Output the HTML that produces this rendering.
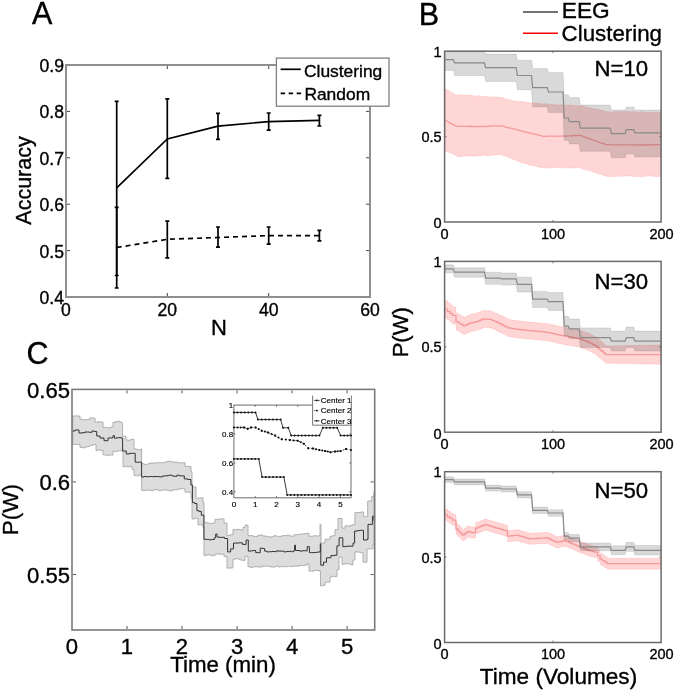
<!DOCTYPE html>
<html><head><meta charset="utf-8"><style>
html,body{margin:0;padding:0;background:#fff;}
body{width:675px;height:690px;overflow:hidden;}
svg{display:block;will-change:transform;}
text{font-family:"Liberation Sans", sans-serif;fill:#000;stroke:#000;stroke-width:0.35px;}
</style></head><body>
<svg width="675" height="690" viewBox="0 0 675 690">
<rect width="675" height="690" fill="#fff"/>
<text x="32.0" y="23.9" font-size="30.50" text-anchor="start" >A</text>
<rect x="66" y="65" width="304" height="232" fill="none" stroke="#8f8f8f" stroke-width="2"/>
<line x1="167.3" y1="296" x2="167.3" y2="293" stroke="#444" stroke-width="1"/>
<line x1="167.3" y1="66" x2="167.3" y2="69" stroke="#444" stroke-width="1"/>
<line x1="268.7" y1="296" x2="268.7" y2="293" stroke="#444" stroke-width="1"/>
<line x1="268.7" y1="66" x2="268.7" y2="69" stroke="#444" stroke-width="1"/>
<line x1="67" y1="250.6" x2="70" y2="250.6" stroke="#444" stroke-width="1"/>
<line x1="369" y1="250.6" x2="366" y2="250.6" stroke="#444" stroke-width="1"/>
<line x1="67" y1="204.2" x2="70" y2="204.2" stroke="#444" stroke-width="1"/>
<line x1="369" y1="204.2" x2="366" y2="204.2" stroke="#444" stroke-width="1"/>
<line x1="67" y1="157.8" x2="70" y2="157.8" stroke="#444" stroke-width="1"/>
<line x1="369" y1="157.8" x2="366" y2="157.8" stroke="#444" stroke-width="1"/>
<line x1="67" y1="111.4" x2="70" y2="111.4" stroke="#444" stroke-width="1"/>
<line x1="369" y1="111.4" x2="366" y2="111.4" stroke="#444" stroke-width="1"/>
<text x="64.0" y="304.0" font-size="17.60" text-anchor="end" >0.4</text>
<text x="64.0" y="257.6" font-size="17.60" text-anchor="end" >0.5</text>
<text x="64.0" y="211.2" font-size="17.60" text-anchor="end" >0.6</text>
<text x="64.0" y="164.8" font-size="17.60" text-anchor="end" >0.7</text>
<text x="64.0" y="118.4" font-size="17.60" text-anchor="end" >0.8</text>
<text x="64.0" y="72.0" font-size="17.60" text-anchor="end" >0.9</text>
<text x="66.0" y="315.8" font-size="17.60" text-anchor="middle" >0</text>
<text x="167.3" y="315.8" font-size="17.60" text-anchor="middle" >20</text>
<text x="268.7" y="315.8" font-size="17.60" text-anchor="middle" >40</text>
<text x="370.0" y="315.8" font-size="17.60" text-anchor="middle" >60</text>
<text x="219.0" y="334.6" font-size="22.00" text-anchor="middle" >N</text>
<text transform="translate(31.4,180.5) rotate(-90)" x="0" y="0" font-size="21.5" text-anchor="middle">Accuracy</text>
<polyline points="116.7,187.8 167.3,138.9 218.0,126.2 268.7,121.6 319.4,120.4" fill="none" stroke="#000" stroke-width="1.7"/>
<polyline points="116.7,247.5 167.3,239.3 218.0,237.5 268.7,235.6 319.4,235.6" fill="none" stroke="#000" stroke-width="1.7" stroke-dasharray="5,4"/>
<path d="M116.7 101.4V288.0M114.7 101.4H118.7M114.7 288.0H118.7" stroke="#000" stroke-width="1.7" fill="none"/>
<path d="M167.3 98.9V178.4M165.3 98.9H169.3M165.3 178.4H169.3" stroke="#000" stroke-width="1.7" fill="none"/>
<path d="M218.0 113.4V139.4M216.0 113.4H220.0M216.0 139.4H220.0" stroke="#000" stroke-width="1.7" fill="none"/>
<path d="M268.7 113.0V130.1M266.7 113.0H270.7M266.7 130.1H270.7" stroke="#000" stroke-width="1.7" fill="none"/>
<path d="M319.4 115.3V126.0M317.4 115.3H321.4M317.4 126.0H321.4" stroke="#000" stroke-width="1.7" fill="none"/>
<path d="M116.7 207.3V275.5M114.7 207.3H118.7M114.7 275.5H118.7" stroke="#000" stroke-width="1.7" fill="none"/>
<path d="M167.3 221.1V257.9M165.3 221.1H169.3M165.3 257.9H169.3" stroke="#000" stroke-width="1.7" fill="none"/>
<path d="M218.0 227.0V247.2M216.0 227.0H220.0M216.0 247.2H220.0" stroke="#000" stroke-width="1.7" fill="none"/>
<path d="M268.7 227.0V244.2M266.7 227.0H270.7M266.7 244.2H270.7" stroke="#000" stroke-width="1.7" fill="none"/>
<path d="M319.4 230.3V240.9M317.4 230.3H321.4M317.4 240.9H321.4" stroke="#000" stroke-width="1.7" fill="none"/>
<rect x="276.4" y="58.1" width="112.6" height="48.1" fill="#fff" stroke="#808080" stroke-width="1.3"/>
<line x1="280.6" y1="69.3" x2="300.8" y2="69.3" stroke="#000" stroke-width="1.7"/>
<line x1="280.6" y1="93.3" x2="302" y2="93.3" stroke="#000" stroke-width="1.7" stroke-dasharray="4.5,3.5"/>
<text x="304.0" y="76.8" font-size="17.40" text-anchor="start" >Clustering</text>
<text x="304.4" y="99.5" font-size="17.40" text-anchor="start" >Random</text>
<text x="26.6" y="363.5" font-size="30.50" text-anchor="start" >C</text>
<polygon points="72.8,416.0 75.2,416.0 75.2,415.9 77.6,415.9 77.6,416.1 80.0,416.1 80.0,419.3 82.5,419.3 82.5,420.0 85.0,420.0 85.0,419.6 87.5,419.6 87.5,419.5 90.0,419.5 90.0,417.8 92.5,417.8 92.5,418.0 95.0,418.0 95.0,422.2 97.7,422.2 97.7,421.8 100.3,421.8 100.3,422.0 103.0,422.0 103.0,427.4 105.5,427.4 105.5,427.5 108.0,427.5 108.0,427.9 110.5,427.9 110.5,427.0 113.0,427.0 113.0,422.2 115.2,422.2 115.2,421.7 117.5,421.7 117.5,421.3 119.8,421.3 119.8,422.2 122.0,422.2 122.0,423.7 122.6,423.7 122.6,436.3 126.0,436.3 126.0,440.0 128.3,440.0 128.3,440.3 130.7,440.3 130.7,439.4 133.0,439.4 133.0,439.3 134.0,439.3 134.0,448.9 136.3,448.9 136.3,449.4 138.7,449.4 138.7,449.9 141.0,449.9 141.0,448.9 141.6,448.9 141.6,463.7 143.9,463.7 143.9,464.4 146.3,464.4 146.3,464.3 148.6,464.3 148.6,463.4 151.0,463.4 151.0,462.8 153.3,462.8 153.3,463.3 155.6,463.3 155.6,462.8 158.0,462.8 158.0,462.7 160.3,462.7 160.3,462.8 162.7,462.8 162.7,462.5 165.0,462.5 165.0,461.9 167.4,461.9 167.4,461.2 169.8,461.2 169.8,461.5 172.2,461.5 172.2,462.2 174.6,462.2 174.6,462.1 177.0,462.1 177.0,462.6 179.7,462.6 179.7,462.9 182.3,462.9 182.3,462.8 185.0,462.8 185.0,466.3 188.0,466.3 188.0,466.6 191.0,466.6 191.0,471.5 192.0,471.5 192.0,487.0 196.0,487.0 196.0,498.1 198.3,498.1 198.3,498.2 200.7,498.2 200.7,497.8 203.0,497.8 203.0,502.6 204.0,502.6 204.0,522.2 206.2,522.2 206.2,522.8 208.4,522.8 208.4,523.3 210.6,523.3 210.6,523.3 212.8,523.3 212.8,523.1 215.0,523.1 215.0,519.3 217.2,519.3 217.2,519.4 219.5,519.4 219.5,518.9 221.8,518.9 221.8,518.8 224.0,518.8 224.0,523.0 227.0,523.0 227.0,535.6 230.0,535.6 230.0,534.7 233.0,534.7 233.0,529.6 235.5,529.6 235.5,529.6 238.0,529.6 238.0,529.4 240.5,529.4 240.5,530.1 243.0,530.1 243.0,527.4 245.0,527.4 245.0,525.2 248.0,525.2 248.0,535.6 250.4,535.6 250.4,535.6 252.9,535.6 252.9,536.4 255.3,536.4 255.3,536.5 257.7,536.5 257.7,535.3 260.1,535.3 260.1,535.0 262.6,535.0 262.6,535.9 265.0,535.9 265.0,536.3 267.2,536.3 267.2,536.4 269.4,536.4 269.4,537.1 271.7,537.1 271.7,536.6 273.9,536.6 273.9,535.7 276.1,535.7 276.1,536.2 278.3,536.2 278.3,536.7 280.6,536.7 280.6,536.1 282.8,536.1 282.8,535.6 285.0,535.6 285.0,535.6 287.2,535.6 287.2,535.0 289.5,535.0 289.5,536.0 291.8,536.0 291.8,536.2 294.0,536.2 294.0,534.8 296.6,534.8 296.6,534.5 299.2,534.5 299.2,534.2 301.8,534.2 301.8,533.9 304.4,533.9 304.4,533.6 307.0,533.6 307.0,533.3 309.0,533.3 309.0,536.3 311.5,536.3 311.5,536.2 314.0,536.2 314.0,535.7 316.5,535.7 316.5,536.1 319.0,536.1 319.0,535.6 320.0,535.6 320.0,524.4 321.0,524.4 321.0,543.0 325.0,543.0 325.0,539.3 327.5,539.3 327.5,539.1 330.0,539.1 330.0,536.3 332.5,536.3 332.5,535.7 335.0,535.7 335.0,529.6 338.0,529.6 338.0,518.5 342.0,518.5 342.0,528.1 345.0,528.1 345.0,525.9 347.7,525.9 347.7,526.0 350.3,526.0 350.3,525.3 353.0,525.3 353.0,524.4 354.9,524.4 354.9,512.6 357.8,512.6 357.8,512.6 360.7,512.6 360.7,512.0 363.6,512.0 363.6,516.7 367.7,516.7 367.7,501.0 371.7,501.0 371.7,496.4 374.0,496.4 374.0,491.7 374.0,544.4 374.0,544.4 373.0,544.4 373.0,548.8 370.0,548.8 370.0,548.9 367.0,548.9 367.0,562.2 363.0,562.2 363.0,552.7 360.3,552.7 360.3,552.1 357.7,552.1 357.7,551.9 355.0,551.9 355.0,560.0 353.0,560.0 353.0,564.9 350.8,564.9 350.8,564.0 348.6,564.0 348.6,563.7 346.4,563.7 346.4,563.7 344.2,563.7 344.2,564.4 342.0,564.4 342.0,557.0 339.0,557.0 339.0,569.6 337.0,569.6 337.0,576.6 334.7,576.6 334.7,576.2 332.3,576.2 332.3,577.0 330.0,577.0 330.0,582.1 327.5,582.1 327.5,582.2 325.0,582.2 325.0,585.3 322.8,585.3 322.8,585.9 320.5,585.9 320.5,571.1 319.0,571.1 319.0,570.4 316.5,570.4 316.5,570.4 314.0,570.4 314.0,571.1 311.5,571.1 311.5,571.1 309.0,571.1 309.0,563.7 307.0,563.7 307.0,565.3 304.4,565.3 304.4,565.7 301.8,565.7 301.8,565.4 299.2,565.4 299.2,566.2 296.6,566.2 296.6,565.9 294.0,565.9 294.0,566.4 291.8,566.4 291.8,566.4 289.5,566.4 289.5,566.3 287.2,566.3 287.2,566.7 285.0,566.7 285.0,566.7 282.7,566.7 282.7,566.7 280.4,566.7 280.4,566.9 278.1,566.9 278.1,566.0 275.8,566.0 275.8,566.9 273.4,566.9 273.4,567.1 271.1,567.1 271.1,566.5 268.8,566.5 268.8,566.2 266.5,566.2 266.5,566.1 264.2,566.1 264.2,566.3 261.9,566.3 261.9,567.1 259.6,567.1 259.6,566.9 257.2,566.9 257.2,566.6 254.9,566.6 254.9,566.9 252.6,566.9 252.6,567.5 250.3,567.5 250.3,566.7 248.0,566.7 248.0,556.3 245.0,556.3 245.0,560.4 242.6,560.4 242.6,560.0 240.2,560.0 240.2,559.2 237.8,559.2 237.8,558.5 235.4,558.5 235.4,559.3 233.0,559.3 233.0,567.9 230.0,567.9 230.0,568.1 227.0,568.1 227.0,556.3 224.0,556.3 224.0,554.1 221.8,554.1 221.8,554.2 219.5,554.2 219.5,553.9 217.2,553.9 217.2,554.1 215.0,554.1 215.0,555.5 212.8,555.5 212.8,555.7 210.6,555.7 210.6,554.7 208.4,554.7 208.4,554.9 206.2,554.9 206.2,555.6 204.0,555.6 204.0,528.0 203.0,528.0 203.0,524.8 200.5,524.8 200.5,524.8 198.0,524.8 198.0,518.3 195.0,518.3 195.0,518.9 192.0,518.9 192.0,498.1 191.0,498.1 191.0,492.1 188.0,492.1 188.0,492.2 185.0,492.2 185.0,488.7 182.3,488.7 182.3,488.6 179.7,488.6 179.7,489.3 177.0,489.3 177.0,489.8 174.6,489.8 174.6,489.9 172.2,489.9 172.2,491.0 169.8,491.0 169.8,490.5 167.4,490.5 167.4,490.0 165.0,490.0 165.0,489.8 162.7,489.8 162.7,490.5 160.3,490.5 160.3,490.6 158.0,490.6 158.0,489.4 155.6,489.4 155.6,489.8 153.3,489.8 153.3,490.8 151.0,490.8 151.0,490.1 148.6,490.1 148.6,490.1 146.3,490.1 146.3,490.4 143.9,490.4 143.9,490.4 141.6,490.4 141.6,475.6 141.0,475.6 141.0,475.0 138.7,475.0 138.7,475.8 136.3,475.8 136.3,475.6 134.0,475.6 134.0,469.6 132.0,469.6 132.0,466.1 129.8,466.1 129.8,467.0 127.5,467.0 127.5,466.0 125.2,466.0 125.2,466.7 123.0,466.7 123.0,451.1 122.0,451.1 122.0,450.8 119.8,450.8 119.8,450.7 117.5,450.7 117.5,451.5 115.2,451.5 115.2,451.1 113.0,451.1 113.0,455.1 110.5,455.1 110.5,455.2 108.0,455.2 108.0,455.2 105.5,455.2 105.5,454.8 103.0,454.8 103.0,450.5 100.7,450.5 100.7,449.7 98.3,449.7 98.3,450.4 96.0,450.4 96.0,444.5 93.0,444.5 93.0,445.2 90.0,445.2 90.0,446.4 87.5,446.4 87.5,447.0 85.0,447.0 85.0,447.8 82.5,447.8 82.5,447.4 80.0,447.4 80.0,444.6 77.6,444.6 77.6,444.4 75.2,444.4 75.2,444.4 72.8,444.4" fill="#dddddd" stroke="#a9a9a9" stroke-width="0.9"/>
<polyline points="72.5,431.0 75.0,431.0 75.0,430.0 79.0,430.0 79.0,433.0 82.0,433.0 82.0,432.7 85.0,432.7 85.0,432.0 87.3,432.0 87.3,432.1 89.7,432.1 89.7,432.3 92.0,432.3 92.0,431.0 94.3,431.0 94.3,431.5 96.7,431.5 96.7,436.0 100.0,436.0 100.0,438.0 104.0,438.0 104.0,440.7 108.0,440.7 108.0,438.0 110.5,438.0 110.5,437.9 113.0,437.9 113.0,435.6 114.4,435.6 114.4,438.2 116.6,438.2 116.6,437.8 118.9,437.8 118.9,437.6 121.1,437.6 121.1,438.2 122.6,438.2 122.6,451.0 126.3,451.0 126.3,454.0 129.2,454.0 129.2,453.4 132.2,453.4 132.2,453.3 135.2,453.3 135.2,462.2 137.4,462.2 137.4,462.2 139.6,462.2 139.6,462.2 141.6,462.2 141.6,477.0 143.8,477.0 143.8,476.5 146.1,476.5 146.1,476.8 148.3,476.8 148.3,476.6 150.5,476.6 150.5,476.5 152.8,476.5 152.8,476.7 155.0,476.7 155.0,476.5 157.5,476.5 157.5,476.7 160.0,476.7 160.0,476.8 162.5,476.8 162.5,476.0 165.0,476.0 165.0,475.9 167.4,475.9 167.4,475.4 169.8,475.4 169.8,475.2 172.1,475.2 172.1,476.0 174.5,476.0 174.5,476.3 176.9,476.3 176.9,475.2 179.4,475.2 179.4,475.8 181.8,475.8 181.8,475.9 184.3,475.9 184.3,478.9 187.6,478.9 187.6,479.5 190.9,479.5 190.9,484.8 192.4,484.8 192.4,502.6 194.7,502.6 194.7,503.5 196.9,503.5 196.9,510.7 199.1,510.7 199.1,511.5 201.3,511.5 201.3,515.2 203.9,515.2 203.9,539.3 206.5,539.3 206.5,539.4 209.1,539.4 209.1,539.8 211.7,539.8 211.7,539.5 214.3,539.5 214.3,537.8 215.7,537.8 215.7,534.0 217.0,534.0 217.0,537.0 219.5,537.0 219.5,537.4 222.1,537.4 222.1,537.3 224.6,537.3 224.6,538.5 227.6,538.5 227.6,551.9 230.6,551.9 230.6,548.9 233.5,548.9 233.5,543.0 235.7,543.0 235.7,543.1 237.9,543.1 237.9,542.9 240.2,542.9 240.2,542.8 242.4,542.8 242.4,544.4 246.1,544.4 246.1,540.0 248.3,540.0 248.3,551.1 250.8,551.1 250.8,550.8 253.2,550.8 253.2,550.5 255.7,550.5 255.7,552.6 257.9,552.6 257.9,552.7 260.2,552.7 260.2,548.1 262.4,548.1 262.4,548.5 264.6,548.5 264.6,551.1 267.0,551.1 267.0,551.9 269.4,551.9 269.4,551.7 271.8,551.7 271.8,551.5 274.2,551.5 274.2,551.6 276.7,551.6 276.7,550.9 279.1,550.9 279.1,551.2 281.5,551.2 281.5,551.1 283.9,551.1 283.9,551.9 286.4,551.9 286.4,551.5 288.9,551.5 288.9,551.3 291.4,551.3 291.4,551.7 293.9,551.7 293.9,550.4 294.6,550.4 294.6,545.2 295.5,545.2 295.5,550.5 299.8,550.5 299.8,551.1 302.3,551.1 302.3,550.7 304.7,550.7 304.7,550.8 307.2,550.8 307.2,546.7 309.4,546.7 309.4,552.6 311.8,552.6 311.8,552.6 314.2,552.6 314.2,552.5 316.7,552.5 316.7,552.1 319.1,552.1 319.1,551.9 320.3,551.9 320.3,543.7 320.8,543.7 320.8,565.2 323.5,565.2 323.5,562.2 326.5,562.2 326.5,557.8 330.9,557.8 330.9,555.6 333.9,555.6 333.9,555.3 336.9,555.3 336.9,545.9 339.1,545.9 339.1,537.8 341.3,537.8 341.3,537.8 342.8,537.8 342.8,546.7 345.4,546.7 345.4,546.3 348.0,546.3 348.0,546.2 350.5,546.2 350.5,546.1 353.1,546.1 353.1,543.0 354.6,543.0 354.6,531.1 357.3,531.1 357.3,530.6 360.1,530.6 360.1,530.3 362.8,530.3 362.8,530.4 363.5,530.4 363.5,540.0 367.2,540.0 367.2,539.3 368.0,539.3 368.0,524.4 372.4,524.4 372.4,516.3 374.0,516.3 374.0,520.7" fill="none" stroke="#333" stroke-width="1.0"/>
<rect x="72" y="389.4" width="302.7" height="240.6" fill="none" stroke="#7a7a7a" stroke-width="1.6"/>
<line x1="127.0" y1="629.0" x2="127.0" y2="626.0" stroke="#555" stroke-width="1"/>
<line x1="127.0" y1="390.4" x2="127.0" y2="393.4" stroke="#555" stroke-width="1"/>
<line x1="182.0" y1="629.0" x2="182.0" y2="626.0" stroke="#555" stroke-width="1"/>
<line x1="182.0" y1="390.4" x2="182.0" y2="393.4" stroke="#555" stroke-width="1"/>
<line x1="237.1" y1="629.0" x2="237.1" y2="626.0" stroke="#555" stroke-width="1"/>
<line x1="237.1" y1="390.4" x2="237.1" y2="393.4" stroke="#555" stroke-width="1"/>
<line x1="292.1" y1="629.0" x2="292.1" y2="626.0" stroke="#555" stroke-width="1"/>
<line x1="292.1" y1="390.4" x2="292.1" y2="393.4" stroke="#555" stroke-width="1"/>
<line x1="347.1" y1="629.0" x2="347.1" y2="626.0" stroke="#555" stroke-width="1"/>
<line x1="347.1" y1="390.4" x2="347.1" y2="393.4" stroke="#555" stroke-width="1"/>
<line x1="73.0" y1="574.5" x2="76.0" y2="574.5" stroke="#555" stroke-width="1"/>
<line x1="373.7" y1="574.5" x2="370.7" y2="574.5" stroke="#555" stroke-width="1"/>
<line x1="73.0" y1="481.9" x2="76.0" y2="481.9" stroke="#555" stroke-width="1"/>
<line x1="373.7" y1="481.9" x2="370.7" y2="481.9" stroke="#555" stroke-width="1"/>
<text x="70.1" y="397.6" font-size="22.10" text-anchor="end" >0.65</text>
<text x="70.1" y="490.1" font-size="22.10" text-anchor="end" >0.6</text>
<text x="70.1" y="582.7" font-size="22.10" text-anchor="end" >0.55</text>
<text x="72.0" y="653.6" font-size="22.10" text-anchor="middle" >0</text>
<text x="127.0" y="653.6" font-size="22.10" text-anchor="middle" >1</text>
<text x="182.0" y="653.6" font-size="22.10" text-anchor="middle" >2</text>
<text x="237.1" y="653.6" font-size="22.10" text-anchor="middle" >3</text>
<text x="292.1" y="653.6" font-size="22.10" text-anchor="middle" >4</text>
<text x="347.1" y="653.6" font-size="22.10" text-anchor="middle" >5</text>
<text x="223.0" y="672.4" font-size="22.30" text-anchor="middle" >Time (min)</text>
<text transform="translate(18.3,509.7) rotate(-90)" x="0" y="0" font-size="22.5" text-anchor="middle">P(W)</text>
<rect x="233.9" y="405.1" width="117.1" height="92.7" fill="#fff" stroke="#7a7a7a" stroke-width="1.1"/>
<line x1="255.2" y1="497.8" x2="255.2" y2="496.3" stroke="#333" stroke-width="0.8"/>
<line x1="255.2" y1="405.1" x2="255.2" y2="406.6" stroke="#333" stroke-width="0.8"/>
<line x1="276.5" y1="497.8" x2="276.5" y2="496.3" stroke="#333" stroke-width="0.8"/>
<line x1="276.5" y1="405.1" x2="276.5" y2="406.6" stroke="#333" stroke-width="0.8"/>
<line x1="297.8" y1="497.8" x2="297.8" y2="496.3" stroke="#333" stroke-width="0.8"/>
<line x1="297.8" y1="405.1" x2="297.8" y2="406.6" stroke="#333" stroke-width="0.8"/>
<line x1="319.1" y1="497.8" x2="319.1" y2="496.3" stroke="#333" stroke-width="0.8"/>
<line x1="319.1" y1="405.1" x2="319.1" y2="406.6" stroke="#333" stroke-width="0.8"/>
<line x1="340.4" y1="497.8" x2="340.4" y2="496.3" stroke="#333" stroke-width="0.8"/>
<line x1="340.4" y1="405.1" x2="340.4" y2="406.6" stroke="#333" stroke-width="0.8"/>
<line x1="233.9" y1="491.8" x2="235.4" y2="491.8" stroke="#333" stroke-width="0.8"/>
<line x1="351.0" y1="491.8" x2="349.5" y2="491.8" stroke="#333" stroke-width="0.8"/>
<line x1="233.9" y1="462.9" x2="235.4" y2="462.9" stroke="#333" stroke-width="0.8"/>
<line x1="351.0" y1="462.9" x2="349.5" y2="462.9" stroke="#333" stroke-width="0.8"/>
<line x1="233.9" y1="434.0" x2="235.4" y2="434.0" stroke="#333" stroke-width="0.8"/>
<line x1="351.0" y1="434.0" x2="349.5" y2="434.0" stroke="#333" stroke-width="0.8"/>
<text x="233.1" y="407.9" font-size="8.00" text-anchor="end" style="stroke-width:0.15px">1</text>
<text x="233.1" y="436.8" font-size="8.00" text-anchor="end" style="stroke-width:0.15px">0.8</text>
<text x="233.1" y="465.7" font-size="8.00" text-anchor="end" style="stroke-width:0.15px">0.6</text>
<text x="233.1" y="494.6" font-size="8.00" text-anchor="end" style="stroke-width:0.15px">0.4</text>
<text x="233.9" y="507.0" font-size="8.00" text-anchor="middle" style="stroke-width:0.15px">0</text>
<text x="255.2" y="507.0" font-size="8.00" text-anchor="middle" style="stroke-width:0.15px">1</text>
<text x="276.5" y="507.0" font-size="8.00" text-anchor="middle" style="stroke-width:0.15px">2</text>
<text x="297.8" y="507.0" font-size="8.00" text-anchor="middle" style="stroke-width:0.15px">3</text>
<text x="319.1" y="507.0" font-size="8.00" text-anchor="middle" style="stroke-width:0.15px">4</text>
<text x="340.4" y="507.0" font-size="8.00" text-anchor="middle" style="stroke-width:0.15px">5</text>
<polyline points="233.9,412.4 255.5,412.4 257.9,419.6 280.6,419.6 283.0,427.8 288.3,427.8 291.2,435.6 319.4,435.6 322.8,427.8 337.2,427.8 340.6,435.6 351.0,435.6" fill="none" stroke="#222" stroke-width="0.9" />
<circle cx="233.9" cy="412.4" r="1.0" fill="#111"/>
<circle cx="237.5" cy="412.4" r="1.0" fill="#111"/>
<circle cx="241.1" cy="412.4" r="1.0" fill="#111"/>
<circle cx="244.7" cy="412.4" r="1.0" fill="#111"/>
<circle cx="248.3" cy="412.4" r="1.0" fill="#111"/>
<circle cx="251.9" cy="412.4" r="1.0" fill="#111"/>
<circle cx="255.5" cy="412.4" r="1.0" fill="#111"/>
<circle cx="257.9" cy="419.6" r="1.0" fill="#111"/>
<circle cx="261.7" cy="419.6" r="1.0" fill="#111"/>
<circle cx="265.5" cy="419.6" r="1.0" fill="#111"/>
<circle cx="269.2" cy="419.6" r="1.0" fill="#111"/>
<circle cx="273.0" cy="419.6" r="1.0" fill="#111"/>
<circle cx="276.8" cy="419.6" r="1.0" fill="#111"/>
<circle cx="280.6" cy="419.6" r="1.0" fill="#111"/>
<circle cx="283.0" cy="427.8" r="1.0" fill="#111"/>
<circle cx="288.3" cy="427.8" r="1.0" fill="#111"/>
<circle cx="291.2" cy="435.6" r="1.0" fill="#111"/>
<circle cx="294.7" cy="435.6" r="1.0" fill="#111"/>
<circle cx="298.2" cy="435.6" r="1.0" fill="#111"/>
<circle cx="301.8" cy="435.6" r="1.0" fill="#111"/>
<circle cx="305.3" cy="435.6" r="1.0" fill="#111"/>
<circle cx="308.8" cy="435.6" r="1.0" fill="#111"/>
<circle cx="312.3" cy="435.6" r="1.0" fill="#111"/>
<circle cx="315.9" cy="435.6" r="1.0" fill="#111"/>
<circle cx="319.4" cy="435.6" r="1.0" fill="#111"/>
<circle cx="322.8" cy="427.8" r="1.0" fill="#111"/>
<circle cx="326.4" cy="427.8" r="1.0" fill="#111"/>
<circle cx="330.0" cy="427.8" r="1.0" fill="#111"/>
<circle cx="333.6" cy="427.8" r="1.0" fill="#111"/>
<circle cx="337.2" cy="427.8" r="1.0" fill="#111"/>
<circle cx="340.6" cy="435.6" r="1.0" fill="#111"/>
<circle cx="344.1" cy="435.6" r="1.0" fill="#111"/>
<circle cx="347.5" cy="435.6" r="1.0" fill="#111"/>
<circle cx="351.0" cy="435.6" r="1.0" fill="#111"/>
<polyline points="233.9,427.4 244.0,427.4 247.6,428.7 251.0,427.4 255.5,427.4 261.7,430.7 268.0,432.5 275.0,435.6 281.7,439.3 290.0,440.0 297.7,440.7 303.9,443.8 308.3,448.2 313.0,448.5 319.4,450.0 325.0,451.0 330.6,452.2 335.0,451.5 340.6,451.1 346.0,448.9 351.0,450.0" fill="none" stroke="#222" stroke-width="0.9" stroke-dasharray="1.8,1.8"/>
<circle cx="233.9" cy="427.4" r="1.0" fill="#111"/>
<circle cx="237.3" cy="427.4" r="1.0" fill="#111"/>
<circle cx="240.6" cy="427.4" r="1.0" fill="#111"/>
<circle cx="244.0" cy="427.4" r="1.0" fill="#111"/>
<circle cx="244.0" cy="427.4" r="1.0" fill="#111"/>
<circle cx="247.6" cy="428.7" r="1.0" fill="#111"/>
<circle cx="247.6" cy="428.7" r="1.0" fill="#111"/>
<circle cx="251.0" cy="427.4" r="1.0" fill="#111"/>
<circle cx="251.0" cy="427.4" r="1.0" fill="#111"/>
<circle cx="255.5" cy="427.4" r="1.0" fill="#111"/>
<circle cx="255.5" cy="427.4" r="1.0" fill="#111"/>
<circle cx="258.6" cy="429.0" r="1.0" fill="#111"/>
<circle cx="261.7" cy="430.7" r="1.0" fill="#111"/>
<circle cx="261.7" cy="430.7" r="1.0" fill="#111"/>
<circle cx="264.9" cy="431.6" r="1.0" fill="#111"/>
<circle cx="268.0" cy="432.5" r="1.0" fill="#111"/>
<circle cx="268.0" cy="432.5" r="1.0" fill="#111"/>
<circle cx="271.5" cy="434.1" r="1.0" fill="#111"/>
<circle cx="275.0" cy="435.6" r="1.0" fill="#111"/>
<circle cx="275.0" cy="435.6" r="1.0" fill="#111"/>
<circle cx="278.4" cy="437.5" r="1.0" fill="#111"/>
<circle cx="281.7" cy="439.3" r="1.0" fill="#111"/>
<circle cx="281.7" cy="439.3" r="1.0" fill="#111"/>
<circle cx="285.9" cy="439.6" r="1.0" fill="#111"/>
<circle cx="290.0" cy="440.0" r="1.0" fill="#111"/>
<circle cx="290.0" cy="440.0" r="1.0" fill="#111"/>
<circle cx="293.9" cy="440.4" r="1.0" fill="#111"/>
<circle cx="297.7" cy="440.7" r="1.0" fill="#111"/>
<circle cx="297.7" cy="440.7" r="1.0" fill="#111"/>
<circle cx="300.8" cy="442.2" r="1.0" fill="#111"/>
<circle cx="303.9" cy="443.8" r="1.0" fill="#111"/>
<circle cx="303.9" cy="443.8" r="1.0" fill="#111"/>
<circle cx="308.3" cy="448.2" r="1.0" fill="#111"/>
<circle cx="308.3" cy="448.2" r="1.0" fill="#111"/>
<circle cx="313.0" cy="448.5" r="1.0" fill="#111"/>
<circle cx="313.0" cy="448.5" r="1.0" fill="#111"/>
<circle cx="316.2" cy="449.2" r="1.0" fill="#111"/>
<circle cx="319.4" cy="450.0" r="1.0" fill="#111"/>
<circle cx="319.4" cy="450.0" r="1.0" fill="#111"/>
<circle cx="322.2" cy="450.5" r="1.0" fill="#111"/>
<circle cx="325.0" cy="451.0" r="1.0" fill="#111"/>
<circle cx="325.0" cy="451.0" r="1.0" fill="#111"/>
<circle cx="327.8" cy="451.6" r="1.0" fill="#111"/>
<circle cx="330.6" cy="452.2" r="1.0" fill="#111"/>
<circle cx="330.6" cy="452.2" r="1.0" fill="#111"/>
<circle cx="335.0" cy="451.5" r="1.0" fill="#111"/>
<circle cx="335.0" cy="451.5" r="1.0" fill="#111"/>
<circle cx="337.8" cy="451.3" r="1.0" fill="#111"/>
<circle cx="340.6" cy="451.1" r="1.0" fill="#111"/>
<circle cx="340.6" cy="451.1" r="1.0" fill="#111"/>
<circle cx="346.0" cy="448.9" r="1.0" fill="#111"/>
<circle cx="346.0" cy="448.9" r="1.0" fill="#111"/>
<circle cx="351.0" cy="450.0" r="1.0" fill="#111"/>
<polyline points="233.9,458.9 258.8,458.9 262.1,477.1 283.9,477.1 287.2,494.9 351.0,494.9" fill="none" stroke="#222" stroke-width="0.9" />
<circle cx="233.9" cy="458.9" r="1.0" fill="#111"/>
<circle cx="237.5" cy="458.9" r="1.0" fill="#111"/>
<circle cx="241.0" cy="458.9" r="1.0" fill="#111"/>
<circle cx="244.6" cy="458.9" r="1.0" fill="#111"/>
<circle cx="248.1" cy="458.9" r="1.0" fill="#111"/>
<circle cx="251.7" cy="458.9" r="1.0" fill="#111"/>
<circle cx="255.2" cy="458.9" r="1.0" fill="#111"/>
<circle cx="258.8" cy="458.9" r="1.0" fill="#111"/>
<circle cx="262.1" cy="477.1" r="1.0" fill="#111"/>
<circle cx="265.7" cy="477.1" r="1.0" fill="#111"/>
<circle cx="269.4" cy="477.1" r="1.0" fill="#111"/>
<circle cx="273.0" cy="477.1" r="1.0" fill="#111"/>
<circle cx="276.6" cy="477.1" r="1.0" fill="#111"/>
<circle cx="280.3" cy="477.1" r="1.0" fill="#111"/>
<circle cx="283.9" cy="477.1" r="1.0" fill="#111"/>
<circle cx="287.2" cy="494.9" r="1.0" fill="#111"/>
<circle cx="290.7" cy="494.9" r="1.0" fill="#111"/>
<circle cx="294.3" cy="494.9" r="1.0" fill="#111"/>
<circle cx="297.8" cy="494.9" r="1.0" fill="#111"/>
<circle cx="301.4" cy="494.9" r="1.0" fill="#111"/>
<circle cx="304.9" cy="494.9" r="1.0" fill="#111"/>
<circle cx="308.5" cy="494.9" r="1.0" fill="#111"/>
<circle cx="312.0" cy="494.9" r="1.0" fill="#111"/>
<circle cx="315.6" cy="494.9" r="1.0" fill="#111"/>
<circle cx="319.1" cy="494.9" r="1.0" fill="#111"/>
<circle cx="322.6" cy="494.9" r="1.0" fill="#111"/>
<circle cx="326.2" cy="494.9" r="1.0" fill="#111"/>
<circle cx="329.7" cy="494.9" r="1.0" fill="#111"/>
<circle cx="333.3" cy="494.9" r="1.0" fill="#111"/>
<circle cx="336.8" cy="494.9" r="1.0" fill="#111"/>
<circle cx="340.4" cy="494.9" r="1.0" fill="#111"/>
<circle cx="343.9" cy="494.9" r="1.0" fill="#111"/>
<circle cx="347.5" cy="494.9" r="1.0" fill="#111"/>
<circle cx="351.0" cy="494.9" r="1.0" fill="#111"/>
<rect x="312.6" y="396" width="38.7" height="29.2" fill="#fff"/>
<path d="M312.6 395.6V425.2H351.3V395.6" fill="none" stroke="#666" stroke-width="0.9"/>
<line x1="313.9" y1="400.4" x2="319.8" y2="400.4" stroke="#333" stroke-width="0.8" />
<circle cx="316.8" cy="400.4" r="0.9" fill="#111"/>
<text x="320.8" y="403.2" font-size="8.00" text-anchor="start" style="stroke-width:0.15px">Center 1</text>
<line x1="313.9" y1="410.6" x2="319.8" y2="410.6" stroke="#333" stroke-width="0.8" stroke-dasharray="1.5,1.5"/>
<circle cx="316.8" cy="410.6" r="0.9" fill="#111"/>
<text x="320.8" y="413.4" font-size="8.00" text-anchor="start" style="stroke-width:0.15px">Center 2</text>
<line x1="313.9" y1="420.8" x2="319.8" y2="420.8" stroke="#333" stroke-width="0.8" />
<circle cx="316.8" cy="420.8" r="0.9" fill="#111"/>
<text x="320.8" y="423.6" font-size="8.00" text-anchor="start" style="stroke-width:0.15px">Center 3</text>
<text x="418.8" y="24.9" font-size="30.50" text-anchor="start" >B</text>
<line x1="523" y1="12" x2="558" y2="12" stroke="#444" stroke-width="1.5"/>
<line x1="523" y1="33.3" x2="558" y2="33.3" stroke="#ff0000" stroke-width="1.4"/>
<text x="561.8" y="17.8" font-size="22.70" text-anchor="start" >EEG</text>
<text x="561.6" y="40.8" font-size="22.30" text-anchor="start" >Clustering</text>
<text transform="translate(408.3,332.3) rotate(-90)" x="0" y="0" font-size="22" text-anchor="middle">P(W)</text>
<text x="558.5" y="684.3" font-size="22.60" text-anchor="middle" >Time (Volumes)</text>
<g>
<polygon points="445.0,88.7 447.0,89.8 449.1,90.8 451.1,92.4 453.2,93.2 455.2,94.7 457.3,94.9 459.4,94.8 461.4,94.7 463.5,95.2 465.6,94.9 467.7,95.4 469.7,95.2 471.8,95.4 473.9,95.7 476.0,96.2 478.0,95.7 480.1,96.0 482.2,96.4 484.3,96.8 486.4,96.6 488.4,96.6 490.5,97.2 492.6,96.5 494.7,97.3 496.7,97.0 498.8,97.0 500.9,97.4 502.9,97.7 505.0,98.4 507.0,99.4 509.0,99.4 511.1,100.3 513.1,100.8 515.1,101.1 517.2,101.2 519.2,101.5 521.2,101.4 523.3,101.6 525.3,102.0 527.3,102.6 529.4,102.6 531.4,102.9 533.4,102.9 535.5,103.3 537.5,103.3 539.6,103.3 541.6,103.8 543.7,103.9 545.7,103.7 547.7,104.1 549.8,104.2 551.8,104.6 553.9,104.7 555.9,104.4 558.0,105.1 560.0,104.9 562.1,104.7 564.1,105.0 566.2,105.4 568.2,105.0 570.3,105.3 572.3,105.1 574.4,105.7 576.4,105.8 578.5,105.8 580.5,106.1 582.6,105.9 584.6,106.2 586.6,107.0 588.6,107.4 590.6,107.8 592.6,108.2 594.7,109.0 596.7,109.5 598.7,109.6 600.7,110.2 602.7,110.2 604.7,111.2 606.7,111.5 608.7,111.7 610.7,112.0 612.7,111.9 614.7,111.5 616.8,111.6 618.8,111.8 620.8,111.4 622.8,111.7 624.8,111.5 626.8,111.5 628.8,111.5 630.8,112.1 632.8,111.6 634.9,111.8 636.9,111.9 638.9,112.3 640.9,111.7 642.9,112.1 644.9,112.2 646.9,112.5 648.9,112.5 650.9,112.5 653.0,112.1 655.0,112.2 657.0,112.2 659.0,112.7 661.0,112.4 661.0,176.3 659.0,176.6 657.0,176.6 655.0,176.4 653.0,176.1 650.9,176.1 648.9,176.1 646.9,176.1 644.9,176.2 642.9,176.7 640.9,176.7 638.9,176.6 636.9,176.3 634.9,176.7 632.8,176.5 630.8,176.1 628.8,176.1 626.8,175.9 624.8,175.9 622.8,176.2 620.8,176.3 618.8,176.1 616.8,176.5 614.7,176.6 612.7,176.5 610.7,176.6 608.7,176.7 606.7,176.3 604.7,175.9 602.7,174.8 600.7,174.2 598.7,174.0 596.7,173.1 594.7,172.7 592.7,171.6 590.7,171.1 588.7,170.4 586.7,170.1 584.7,169.6 582.7,169.0 580.7,168.0 578.6,168.0 576.6,167.6 574.5,168.0 572.4,167.7 570.4,168.0 568.3,168.3 566.3,167.5 564.2,167.6 562.1,168.2 560.1,167.7 558.0,167.8 555.9,167.6 553.9,167.5 551.8,167.8 549.8,167.8 547.7,168.2 545.6,168.1 543.6,167.5 541.5,167.8 539.5,167.2 537.4,166.7 535.4,166.1 533.4,165.5 531.4,165.4 529.3,165.1 527.3,163.9 525.3,163.7 523.2,163.0 521.2,162.8 519.2,161.7 517.1,160.8 515.1,160.0 513.1,159.4 511.1,158.4 509.0,157.6 507.0,156.7 505.0,155.9 502.9,155.5 500.9,154.6 498.9,154.4 496.8,154.7 494.8,154.8 492.8,155.2 490.8,155.4 488.7,155.4 486.7,155.6 484.7,155.0 482.6,155.6 480.6,155.7 478.6,155.7 476.6,156.0 474.5,156.3 472.5,156.1 470.5,156.0 468.4,156.1 466.4,155.9 464.4,156.2 462.4,156.6 460.3,156.6 458.3,156.7 456.1,155.5 453.9,154.5 451.6,153.4 449.4,152.4 447.2,152.0 445.0,150.6" fill="#ff0000" fill-opacity="0.16" stroke="#ff0000" stroke-opacity="0.12" stroke-width="0.8"/>
<polyline points="445.0,120.1 447.2,121.3 449.5,122.6 451.7,123.9 454.0,124.8 456.2,126.2 458.4,126.3 460.5,126.4 462.7,126.4 464.9,126.4 467.0,126.3 469.2,126.2 471.3,126.5 473.5,126.4 475.7,126.6 477.8,126.7 480.0,126.5 482.1,126.4 484.2,126.3 486.3,126.5 488.4,126.3 490.4,126.0 492.5,125.9 494.6,125.9 496.7,126.1 498.8,126.0 500.9,125.8 502.9,126.2 505.0,126.9 507.0,127.5 509.0,127.9 511.1,128.2 513.1,128.8 515.1,129.2 517.1,129.6 519.2,130.5 521.2,130.9 523.2,131.3 525.3,132.0 527.3,132.3 529.3,132.8 531.4,133.5 533.4,134.0 535.5,134.2 537.5,134.8 539.5,135.3 541.6,135.8 543.6,136.4 545.7,136.4 547.7,136.2 549.8,136.2 551.8,136.1 553.9,136.3 556.0,136.1 558.0,136.1 560.1,136.1 562.2,136.2 564.2,135.9 566.3,136.1 568.3,135.9 570.4,135.8 572.5,135.8 574.5,135.5 576.6,135.7 578.6,135.5 580.7,135.6 582.7,136.1 584.7,137.1 586.7,137.6 588.7,138.4 590.7,139.2 592.7,139.9 594.7,140.5 596.7,141.3 598.7,142.0 600.7,142.8 602.7,143.2 604.7,144.1 606.7,144.8 608.7,144.7 610.7,144.7 612.7,144.9 614.7,144.8 616.8,144.8 618.8,144.9 620.8,145.0 622.8,144.8 624.8,144.8 626.8,144.8 628.8,144.8 630.8,144.9 632.8,144.8 634.9,144.8 636.9,144.8 638.9,145.0 640.9,144.9 642.9,145.0 644.9,145.0 646.9,144.7 648.9,144.8 650.9,145.0 653.0,144.9 655.0,144.7 657.0,144.6 659.0,144.8 661.0,144.8" fill="none" stroke="#f59a9a" stroke-width="1.3"/>
<polygon points="445.0,51.2 453.3,51.2 454.5,51.2 484.5,51.2 485.7,54.1 500.4,54.1 501.6,54.1 516.2,54.1 517.4,60.2 531.5,60.2 532.7,68.4 547.2,68.4 548.4,72.4 563.0,72.4 564.2,94.8 568.3,94.8 569.5,97.6 579.2,97.6 580.4,105.0 610.2,105.0 611.4,110.0 625.1,110.0 626.3,106.9 633.7,106.9 634.9,110.0 661.1,110.0 661.1,156.9 634.9,156.9 633.7,154.1 626.3,154.1 625.1,157.8 611.4,157.8 610.2,151.3 580.4,151.3 579.2,143.9 569.5,143.9 568.3,140.2 564.2,140.2 563.0,112.4 548.4,112.4 547.2,106.9 532.7,106.9 531.5,89.7 517.4,89.7 516.2,81.5 501.6,81.5 500.4,81.5 485.7,81.5 484.5,75.5 454.5,75.5 453.3,70.4 445.0,70.4" fill="#000" fill-opacity="0.15" stroke="#000" stroke-opacity="0.12" stroke-width="0.8"/>
<polyline points="445.0,59.6 453.3,59.6 454.5,62.9 484.5,62.9 485.7,67.7 500.4,67.7 501.6,67.7 516.2,67.7 517.4,75.5 531.5,75.5 532.7,87.6 547.2,87.6 548.4,92.0 563.0,92.0 564.2,118.0 568.3,118.0 569.5,121.7 579.2,121.7 580.4,128.1 610.2,128.1 611.4,133.7 625.1,133.7 626.3,129.6 633.7,129.6 634.9,132.8 661.1,132.8" fill="none" stroke="#8a8a8a" stroke-width="1.2"/>
<rect x="444.6" y="51.2" width="216.5" height="170.8" fill="none" stroke="#6a6a6a" stroke-width="1.5"/>
<line x1="553.0" y1="222.0" x2="553.0" y2="220.0" stroke="#666" stroke-width="0.8"/>
<line x1="553.0" y1="51.2" x2="553.0" y2="53.2" stroke="#666" stroke-width="0.8"/>
<line x1="444.6" y1="136.6" x2="446.6" y2="136.6" stroke="#666" stroke-width="0.8"/>
<line x1="661.1" y1="136.6" x2="659.1" y2="136.6" stroke="#666" stroke-width="0.8"/>
<text x="441.6" y="56.7" font-size="14.50" text-anchor="end" >1</text>
<text x="441.6" y="142.2" font-size="14.50" text-anchor="end" >0.5</text>
<text x="441.6" y="228.3" font-size="14.50" text-anchor="end" >0</text>
<text x="444.6" y="238.9" font-size="14.50" text-anchor="middle" >0</text>
<text x="553.0" y="238.9" font-size="14.50" text-anchor="middle" >100</text>
<text x="661.5" y="238.9" font-size="14.50" text-anchor="middle" >200</text>
<text x="594.5" y="76.0" font-size="22.20" text-anchor="start" >N=10</text>
</g>
<g>
<polygon points="445.0,300.7 447.5,300.7 447.5,302.8 449.9,302.8 449.9,304.8 452.4,304.8 452.4,306.9 456.0,306.9 456.0,313.2 458.4,313.2 458.4,314.6 460.7,314.6 460.7,315.9 463.1,315.9 463.1,317.3 465.8,317.3 465.8,316.1 468.4,316.1 468.4,314.9 470.8,314.9 470.8,314.3 473.2,314.3 473.2,313.8 475.6,313.8 475.6,313.2 478.0,313.2 478.0,312.3 480.3,312.3 480.3,311.4 482.7,311.4 482.7,310.5 485.1,310.5 485.1,310.6 487.4,310.6 487.4,310.8 489.8,310.8 489.8,310.9 492.0,310.9 492.0,311.9 494.2,311.9 494.2,312.9 496.5,312.9 496.5,313.9 498.7,313.9 498.7,314.9 500.9,314.9 500.9,316.0 503.1,316.0 503.1,317.1 505.4,317.1 505.4,318.3 507.6,318.3 507.6,319.4 509.8,319.4 509.8,319.8 512.0,319.8 512.0,320.1 514.2,320.1 514.2,320.4 516.4,320.4 516.4,320.8 518.5,320.8 518.5,321.0 520.6,321.0 520.6,321.2 522.6,321.2 522.6,321.5 524.7,321.5 524.7,321.7 526.8,321.7 526.8,321.9 528.9,321.9 528.9,322.1 531.1,322.1 531.1,322.3 533.4,322.3 533.4,322.5 535.6,322.5 535.6,322.7 537.8,322.7 537.8,323.0 540.0,323.0 540.0,323.2 542.2,323.2 542.2,323.4 544.5,323.4 544.5,323.6 546.7,323.6 546.7,323.8 548.7,323.8 548.7,324.2 550.7,324.2 550.7,324.7 552.7,324.7 552.7,325.1 554.8,325.1 554.8,325.6 556.8,325.6 556.8,326.1 558.8,326.1 558.8,326.5 560.8,326.5 560.8,326.9 562.8,326.9 562.8,327.4 564.8,327.4 564.8,327.7 566.8,327.7 566.8,328.1 568.8,328.1 568.8,328.4 570.8,328.4 570.8,328.8 572.8,328.8 572.8,329.1 574.8,329.1 574.8,329.4 576.8,329.4 576.8,329.8 578.8,329.8 578.8,330.1 581.0,330.1 581.0,331.0 583.2,331.0 583.2,331.9 585.5,331.9 585.5,332.7 587.7,332.7 587.7,333.6 590.1,333.6 590.1,334.8 592.4,334.8 592.4,336.0 594.8,336.0 594.8,337.2 596.9,337.2 596.9,339.0 599.0,339.0 599.0,340.7 601.2,340.7 601.2,342.5 603.3,342.5 603.3,344.2 605.4,344.2 605.4,346.0 607.5,346.0 607.5,346.0 609.5,346.0 609.5,345.9 611.6,345.9 611.6,345.9 613.6,345.9 613.6,345.8 615.7,345.8 615.7,345.8 617.8,345.8 617.8,345.7 619.8,345.7 619.8,345.7 621.9,345.7 621.9,345.7 623.9,345.7 623.9,345.6 626.0,345.6 626.0,345.6 628.1,345.6 628.1,345.5 630.1,345.5 630.1,345.5 632.2,345.5 632.2,345.5 634.2,345.5 634.2,345.4 636.3,345.4 636.3,345.4 638.3,345.4 638.3,345.3 640.4,345.3 640.4,345.3 642.5,345.3 642.5,345.3 644.5,345.3 644.5,345.2 646.6,345.2 646.6,345.2 648.6,345.2 648.6,345.1 650.7,345.1 650.7,345.1 652.8,345.1 652.8,345.0 654.8,345.0 654.8,345.0 656.9,345.0 656.9,345.0 658.9,345.0 658.9,344.9 661.0,344.9 661.0,344.9 661.0,364.3 661.0,364.3 658.9,364.3 658.9,364.2 656.9,364.2 656.9,364.2 654.8,364.2 654.8,364.2 652.8,364.2 652.8,364.1 650.7,364.1 650.7,364.1 648.6,364.1 648.6,364.0 646.6,364.0 646.6,364.0 644.5,364.0 644.5,363.9 642.5,363.9 642.5,363.9 640.4,363.9 640.4,363.9 638.3,363.9 638.3,363.8 636.3,363.8 636.3,363.8 634.2,363.8 634.2,363.7 632.2,363.7 632.2,363.7 630.1,363.7 630.1,363.7 628.1,363.7 628.1,363.6 626.0,363.6 626.0,363.6 623.9,363.6 623.9,363.5 621.9,363.5 621.9,363.5 619.8,363.5 619.8,363.5 617.8,363.5 617.8,363.4 615.7,363.4 615.7,363.4 613.6,363.4 613.6,363.3 611.6,363.3 611.6,363.3 609.5,363.3 609.5,363.2 607.5,363.2 607.5,363.2 605.4,363.2 605.4,361.4 603.3,361.4 603.3,359.6 601.2,359.6 601.2,357.8 599.0,357.8 599.0,356.0 596.9,356.0 596.9,354.2 594.8,354.2 594.8,353.0 592.4,353.0 592.4,351.8 590.1,351.8 590.1,350.6 587.7,350.6 587.7,349.7 585.5,349.7 585.5,348.9 583.2,348.9 583.2,348.0 581.0,348.0 581.0,347.1 578.8,347.1 578.8,346.8 576.8,346.8 576.8,346.4 574.8,346.4 574.8,346.1 572.8,346.1 572.8,345.8 570.8,345.8 570.8,345.4 568.8,345.4 568.8,345.1 566.8,345.1 566.8,344.7 564.8,344.7 564.8,344.4 562.8,344.4 562.8,343.9 560.8,343.9 560.8,343.5 558.8,343.5 558.8,343.1 556.8,343.1 556.8,342.6 554.8,342.6 554.8,342.1 552.7,342.1 552.7,341.7 550.7,341.7 550.7,341.2 548.7,341.2 548.7,340.8 546.7,340.8 546.7,340.6 544.5,340.6 544.5,340.4 542.2,340.4 542.2,340.2 540.0,340.2 540.0,340.0 537.8,340.0 537.8,339.7 535.6,339.7 535.6,339.5 533.4,339.5 533.4,339.3 531.1,339.3 531.1,339.1 528.9,339.1 528.9,338.9 526.8,338.9 526.8,338.7 524.7,338.7 524.7,338.5 522.6,338.5 522.6,338.2 520.6,338.2 520.6,338.0 518.5,338.0 518.5,337.8 516.4,337.8 516.4,337.4 514.2,337.4 514.2,337.1 512.0,337.1 512.0,336.8 509.8,336.8 509.8,336.4 507.6,336.4 507.6,335.3 505.4,335.3 505.4,334.1 503.1,334.1 503.1,333.0 500.9,333.0 500.9,331.9 498.7,331.9 498.7,330.9 496.5,330.9 496.5,329.9 494.2,329.9 494.2,328.9 492.0,328.9 492.0,327.9 489.8,327.9 489.8,327.8 487.4,327.8 487.4,327.6 485.1,327.6 485.1,327.5 482.7,327.5 482.7,328.4 480.3,328.4 480.3,329.3 478.0,329.3 478.0,330.2 475.6,330.2 475.6,330.8 473.2,330.8 473.2,331.3 470.8,331.3 470.8,331.9 468.4,331.9 468.4,333.1 465.8,333.1 465.8,334.3 463.1,334.3 463.1,332.9 460.7,332.9 460.7,331.6 458.4,331.6 458.4,330.2 456.0,330.2 456.0,323.9 452.4,323.9 452.4,321.8 449.9,321.8 449.9,319.8 447.5,319.8 447.5,317.7 445.0,317.7" fill="#ff0000" fill-opacity="0.16" stroke="#ff0000" stroke-opacity="0.12" stroke-width="0.8"/>
<polyline points="445.0,309.2 447.5,309.2 447.5,311.3 449.9,311.3 449.9,313.3 452.4,313.3 452.4,315.4 456.0,315.4 456.0,321.7 458.4,321.7 458.4,323.1 460.7,323.1 460.7,324.4 463.1,324.4 463.1,325.8 465.8,325.8 465.8,324.6 468.4,324.6 468.4,323.4 470.8,323.4 470.8,322.8 473.2,322.8 473.2,322.3 475.6,322.3 475.6,321.7 478.0,321.7 478.0,320.8 480.3,320.8 480.3,319.9 482.7,319.9 482.7,319.0 485.1,319.0 485.1,319.1 487.4,319.1 487.4,319.3 489.8,319.3 489.8,319.4 492.0,319.4 492.0,320.4 494.2,320.4 494.2,321.4 496.5,321.4 496.5,322.4 498.7,322.4 498.7,323.4 500.9,323.4 500.9,324.5 503.1,324.5 503.1,325.6 505.4,325.6 505.4,326.8 507.6,326.8 507.6,327.9 509.8,327.9 509.8,328.2 512.0,328.2 512.0,328.6 514.2,328.6 514.2,328.9 516.4,328.9 516.4,329.3 518.5,329.3 518.5,329.5 520.6,329.5 520.6,329.7 522.6,329.7 522.6,330.0 524.7,330.0 524.7,330.2 526.8,330.2 526.8,330.4 528.9,330.4 528.9,330.6 531.1,330.6 531.1,330.8 533.4,330.8 533.4,331.0 535.6,331.0 535.6,331.2 537.8,331.2 537.8,331.5 540.0,331.5 540.0,331.7 542.2,331.7 542.2,331.9 544.5,331.9 544.5,332.1 546.7,332.1 546.7,332.3 548.7,332.3 548.7,332.8 550.7,332.8 550.7,333.2 552.7,333.2 552.7,333.6 554.8,333.6 554.8,334.1 556.8,334.1 556.8,334.6 558.8,334.6 558.8,335.0 560.8,335.0 560.8,335.4 562.8,335.4 562.8,335.9 564.8,335.9 564.8,336.2 566.8,336.2 566.8,336.6 568.8,336.6 568.8,336.9 570.8,336.9 570.8,337.2 572.8,337.2 572.8,337.6 574.8,337.6 574.8,337.9 576.8,337.9 576.8,338.3 578.8,338.3 578.8,338.6 581.0,338.6 581.0,339.5 583.2,339.5 583.2,340.4 585.5,340.4 585.5,341.2 587.7,341.2 587.7,342.1 590.1,342.1 590.1,343.3 592.4,343.3 592.4,344.5 594.8,344.5 594.8,345.7 596.9,345.7 596.9,347.5 599.0,347.5 599.0,349.3 601.2,349.3 601.2,351.0 603.3,351.0 603.3,352.8 605.4,352.8 605.4,354.6 607.5,354.6 607.5,354.6 609.5,354.6 609.5,354.6 611.6,354.6 611.6,354.6 613.6,354.6 613.6,354.6 615.7,354.6 615.7,354.6 617.8,354.6 617.8,354.6 619.8,354.6 619.8,354.6 621.9,354.6 621.9,354.6 623.9,354.6 623.9,354.6 626.0,354.6 626.0,354.6 628.1,354.6 628.1,354.6 630.1,354.6 630.1,354.6 632.2,354.6 632.2,354.6 634.2,354.6 634.2,354.6 636.3,354.6 636.3,354.6 638.3,354.6 638.3,354.6 640.4,354.6 640.4,354.6 642.5,354.6 642.5,354.6 644.5,354.6 644.5,354.6 646.6,354.6 646.6,354.6 648.6,354.6 648.6,354.6 650.7,354.6 650.7,354.6 652.8,354.6 652.8,354.6 654.8,354.6 654.8,354.6 656.9,354.6 656.9,354.6 658.9,354.6 658.9,354.6 661.0,354.6 661.0,354.6" fill="none" stroke="#f59a9a" stroke-width="1.3"/>
<polygon points="445.0,264.8 453.3,264.8 454.5,267.8 484.5,267.8 485.7,272.2 500.4,272.2 501.6,273.0 516.2,273.0 517.4,277.2 531.5,277.2 532.7,291.4 547.2,291.4 548.4,292.6 563.0,292.6 564.2,316.3 568.3,316.3 569.5,319.0 579.2,319.0 580.4,327.9 610.2,327.9 611.4,331.1 625.1,331.1 626.3,327.0 633.7,327.0 634.9,331.1 661.1,331.1 661.1,351.0 634.9,351.0 633.7,347.4 626.3,347.4 625.1,351.0 611.4,351.0 610.2,347.4 580.4,347.4 579.2,338.6 569.5,338.6 568.3,335.9 564.2,335.9 563.0,310.4 548.4,310.4 547.2,307.4 532.7,307.4 531.5,292.0 517.4,292.0 516.2,285.0 501.6,285.0 500.4,284.3 485.7,284.3 484.5,277.2 454.5,277.2 453.3,272.8 445.0,272.8" fill="#000" fill-opacity="0.15" stroke="#000" stroke-opacity="0.12" stroke-width="0.8"/>
<polyline points="445.0,268.9 453.3,268.9 454.5,272.2 484.5,272.2 485.7,278.1 500.4,278.1 501.6,278.9 516.2,278.9 517.4,284.3 531.5,284.3 532.7,299.1 547.2,299.1 548.4,301.6 563.0,301.6 564.2,326.1 568.3,326.1 569.5,328.8 579.2,328.8 580.4,337.7 610.2,337.7 611.4,341.2 625.1,341.2 626.3,337.7 633.7,337.7 634.9,341.2 661.1,341.2" fill="none" stroke="#8a8a8a" stroke-width="1.2"/>
<rect x="444.6" y="261.4" width="216.5" height="170.8" fill="none" stroke="#6a6a6a" stroke-width="1.5"/>
<line x1="553.0" y1="432.2" x2="553.0" y2="430.2" stroke="#666" stroke-width="0.8"/>
<line x1="553.0" y1="261.4" x2="553.0" y2="263.4" stroke="#666" stroke-width="0.8"/>
<line x1="444.6" y1="346.8" x2="446.6" y2="346.8" stroke="#666" stroke-width="0.8"/>
<line x1="661.1" y1="346.8" x2="659.1" y2="346.8" stroke="#666" stroke-width="0.8"/>
<text x="441.6" y="266.9" font-size="14.50" text-anchor="end" >1</text>
<text x="441.6" y="352.4" font-size="14.50" text-anchor="end" >0.5</text>
<text x="441.6" y="438.5" font-size="14.50" text-anchor="end" >0</text>
<text x="444.6" y="449.1" font-size="14.50" text-anchor="middle" >0</text>
<text x="553.0" y="449.1" font-size="14.50" text-anchor="middle" >100</text>
<text x="661.5" y="449.1" font-size="14.50" text-anchor="middle" >200</text>
<text x="594.5" y="288.6" font-size="22.20" text-anchor="start" >N=30</text>
</g>
<g>
<polygon points="445.0,509.3 447.5,509.3 447.5,511.1 449.9,511.1 449.9,512.8 452.4,512.8 452.4,514.6 456.0,514.6 456.0,523.5 458.1,523.5 458.1,525.6 460.1,525.6 460.1,527.6 462.2,527.6 462.2,529.7 464.4,529.7 464.4,528.0 466.7,528.0 466.7,526.2 468.8,526.2 468.8,526.5 470.8,526.5 470.8,526.8 472.9,526.8 472.9,527.1 475.6,527.1 475.6,522.6 477.8,522.6 477.8,521.7 480.0,521.7 480.0,520.9 482.2,520.9 482.2,520.0 484.4,520.0 484.4,519.1 486.6,519.1 486.6,519.8 488.9,519.8 488.9,520.4 491.1,520.4 491.1,521.1 493.3,521.1 493.3,521.7 495.4,521.7 495.4,522.3 497.5,522.3 497.5,522.9 499.6,522.9 499.6,523.5 501.6,523.5 501.6,524.1 503.7,524.1 503.7,524.7 505.8,524.7 505.8,525.3 507.6,525.3 507.6,530.6 509.8,530.6 509.8,530.4 512.0,530.4 512.0,530.2 514.2,530.2 514.2,529.9 516.4,529.9 516.4,529.7 518.5,529.7 518.5,530.3 520.6,530.3 520.6,530.9 522.6,530.9 522.6,531.5 524.7,531.5 524.7,532.1 526.8,532.1 526.8,532.7 528.9,532.7 528.9,533.3 531.1,533.3 531.1,533.2 533.4,533.2 533.4,533.1 535.6,533.1 535.6,533.0 537.8,533.0 537.8,532.8 540.0,532.8 540.0,532.7 542.2,532.7 542.2,532.6 544.5,532.6 544.5,532.5 546.7,532.5 546.7,532.4 549.0,532.4 549.0,533.5 551.2,533.5 551.2,534.6 553.5,534.6 553.5,535.7 555.7,535.7 555.7,536.8 557.9,536.8 557.9,536.4 560.2,536.4 560.2,536.0 562.4,536.0 562.4,535.5 564.6,535.5 564.6,535.1 566.6,535.1 566.6,536.0 568.7,536.0 568.7,536.9 570.7,536.9 570.7,537.8 572.7,537.8 572.7,538.6 574.7,538.6 574.7,539.5 576.8,539.5 576.8,540.4 578.8,540.4 578.8,541.3 581.0,541.3 581.0,542.2 583.2,542.2 583.2,543.0 585.5,543.0 585.5,543.9 587.7,543.9 587.7,544.8 590.1,544.8 590.1,545.4 592.4,545.4 592.4,546.0 594.8,546.0 594.8,546.6 597.5,546.6 597.5,550.2 600.1,550.2 600.1,553.7 602.5,553.7 602.5,555.2 604.8,555.2 604.8,556.7 607.2,556.7 607.2,558.2 609.3,558.2 609.3,558.2 611.3,558.2 611.3,558.2 613.4,558.2 613.4,558.2 615.5,558.2 615.5,558.2 617.5,558.2 617.5,558.2 619.6,558.2 619.6,558.2 621.7,558.2 621.7,558.2 623.8,558.2 623.8,558.2 625.8,558.2 625.8,558.2 627.9,558.2 627.9,558.2 630.0,558.2 630.0,558.2 632.0,558.2 632.0,558.2 634.1,558.2 634.1,558.2 636.2,558.2 636.2,558.2 638.2,558.2 638.2,558.2 640.3,558.2 640.3,558.2 642.4,558.2 642.4,558.2 644.4,558.2 644.4,558.2 646.5,558.2 646.5,558.2 648.6,558.2 648.6,558.2 650.7,558.2 650.7,558.2 652.7,558.2 652.7,558.2 654.8,558.2 654.8,558.2 656.9,558.2 656.9,558.2 658.9,558.2 658.9,558.2 661.0,558.2 661.0,558.2 661.0,569.2 661.0,569.2 658.9,569.2 658.9,569.2 656.9,569.2 656.9,569.2 654.8,569.2 654.8,569.2 652.7,569.2 652.7,569.2 650.7,569.2 650.7,569.2 648.6,569.2 648.6,569.2 646.5,569.2 646.5,569.2 644.4,569.2 644.4,569.2 642.4,569.2 642.4,569.2 640.3,569.2 640.3,569.2 638.2,569.2 638.2,569.2 636.2,569.2 636.2,569.2 634.1,569.2 634.1,569.2 632.0,569.2 632.0,569.2 630.0,569.2 630.0,569.2 627.9,569.2 627.9,569.2 625.8,569.2 625.8,569.2 623.8,569.2 623.8,569.2 621.7,569.2 621.7,569.2 619.6,569.2 619.6,569.2 617.5,569.2 617.5,569.2 615.5,569.2 615.5,569.2 613.4,569.2 613.4,569.2 611.3,569.2 611.3,569.2 609.3,569.2 609.3,569.2 607.2,569.2 607.2,567.7 604.8,567.7 604.8,566.2 602.5,566.2 602.5,564.7 600.1,564.7 600.1,561.2 597.5,561.2 597.5,557.6 594.8,557.6 594.8,557.0 592.4,557.0 592.4,556.4 590.1,556.4 590.1,555.8 587.7,555.8 587.7,554.9 585.5,554.9 585.5,554.0 583.2,554.0 583.2,553.2 581.0,553.2 581.0,552.3 578.8,552.3 578.8,551.4 576.8,551.4 576.8,550.5 574.7,550.5 574.7,549.6 572.7,549.6 572.7,548.8 570.7,548.8 570.7,547.9 568.7,547.9 568.7,547.0 566.6,547.0 566.6,546.1 564.6,546.1 564.6,546.5 562.4,546.5 562.4,547.0 560.2,547.0 560.2,547.4 557.9,547.4 557.9,547.8 555.7,547.8 555.7,546.7 553.5,546.7 553.5,545.6 551.2,545.6 551.2,544.5 549.0,544.5 549.0,543.4 546.7,543.4 546.7,543.5 544.5,543.5 544.5,543.6 542.2,543.6 542.2,543.7 540.0,543.7 540.0,543.8 537.8,543.8 537.8,544.0 535.6,544.0 535.6,544.1 533.4,544.1 533.4,544.2 531.1,544.2 531.1,544.3 528.9,544.3 528.9,543.7 526.8,543.7 526.8,543.1 524.7,543.1 524.7,542.5 522.6,542.5 522.6,541.9 520.6,541.9 520.6,541.3 518.5,541.3 518.5,540.7 516.4,540.7 516.4,540.9 514.2,540.9 514.2,541.2 512.0,541.2 512.0,541.4 509.8,541.4 509.8,541.6 507.6,541.6 507.6,536.3 505.8,536.3 505.8,535.7 503.7,535.7 503.7,535.1 501.6,535.1 501.6,534.5 499.6,534.5 499.6,533.9 497.5,533.9 497.5,533.3 495.4,533.3 495.4,532.7 493.3,532.7 493.3,532.1 491.1,532.1 491.1,531.4 488.9,531.4 488.9,530.8 486.6,530.8 486.6,530.1 484.4,530.1 484.4,531.0 482.2,531.0 482.2,531.9 480.0,531.9 480.0,532.7 477.8,532.7 477.8,533.6 475.6,533.6 475.6,538.1 472.9,538.1 472.9,537.8 470.8,537.8 470.8,537.5 468.8,537.5 468.8,537.2 466.7,537.2 466.7,539.0 464.4,539.0 464.4,540.7 462.2,540.7 462.2,538.6 460.1,538.6 460.1,536.6 458.1,536.6 458.1,534.5 456.0,534.5 456.0,525.6 452.4,525.6 452.4,523.8 449.9,523.8 449.9,522.1 447.5,522.1 447.5,520.3 445.0,520.3" fill="#ff0000" fill-opacity="0.16" stroke="#ff0000" stroke-opacity="0.12" stroke-width="0.8"/>
<polyline points="445.0,514.8 447.5,514.8 447.5,516.6 449.9,516.6 449.9,518.3 452.4,518.3 452.4,520.1 456.0,520.1 456.0,529.0 458.1,529.0 458.1,531.1 460.1,531.1 460.1,533.1 462.2,533.1 462.2,535.2 464.4,535.2 464.4,533.5 466.7,533.5 466.7,531.7 468.8,531.7 468.8,532.0 470.8,532.0 470.8,532.3 472.9,532.3 472.9,532.6 475.6,532.6 475.6,528.1 477.8,528.1 477.8,527.2 480.0,527.2 480.0,526.4 482.2,526.4 482.2,525.5 484.4,525.5 484.4,524.6 486.6,524.6 486.6,525.2 488.9,525.2 488.9,525.9 491.1,525.9 491.1,526.6 493.3,526.6 493.3,527.2 495.4,527.2 495.4,527.8 497.5,527.8 497.5,528.4 499.6,528.4 499.6,529.0 501.6,529.0 501.6,529.6 503.7,529.6 503.7,530.2 505.8,530.2 505.8,530.8 507.6,530.8 507.6,536.1 509.8,536.1 509.8,535.9 512.0,535.9 512.0,535.7 514.2,535.7 514.2,535.4 516.4,535.4 516.4,535.2 518.5,535.2 518.5,535.8 520.6,535.8 520.6,536.4 522.6,536.4 522.6,537.0 524.7,537.0 524.7,537.6 526.8,537.6 526.8,538.2 528.9,538.2 528.9,538.8 531.1,538.8 531.1,538.7 533.4,538.7 533.4,538.6 535.6,538.6 535.6,538.5 537.8,538.5 537.8,538.3 540.0,538.3 540.0,538.2 542.2,538.2 542.2,538.1 544.5,538.1 544.5,538.0 546.7,538.0 546.7,537.9 549.0,537.9 549.0,539.0 551.2,539.0 551.2,540.1 553.5,540.1 553.5,541.2 555.7,541.2 555.7,542.3 557.9,542.3 557.9,541.9 560.2,541.9 560.2,541.5 562.4,541.5 562.4,541.0 564.6,541.0 564.6,540.6 566.6,540.6 566.6,541.5 568.7,541.5 568.7,542.4 570.7,542.4 570.7,543.3 572.7,543.3 572.7,544.1 574.7,544.1 574.7,545.0 576.8,545.0 576.8,545.9 578.8,545.9 578.8,546.8 581.0,546.8 581.0,547.7 583.2,547.7 583.2,548.5 585.5,548.5 585.5,549.4 587.7,549.4 587.7,550.3 590.1,550.3 590.1,550.9 592.4,550.9 592.4,551.5 594.8,551.5 594.8,552.1 597.5,552.1 597.5,555.7 600.1,555.7 600.1,559.2 602.5,559.2 602.5,560.7 604.8,560.7 604.8,562.2 607.2,562.2 607.2,563.7 609.3,563.7 609.3,563.7 611.3,563.7 611.3,563.7 613.4,563.7 613.4,563.7 615.5,563.7 615.5,563.7 617.5,563.7 617.5,563.7 619.6,563.7 619.6,563.7 621.7,563.7 621.7,563.7 623.8,563.7 623.8,563.7 625.8,563.7 625.8,563.7 627.9,563.7 627.9,563.7 630.0,563.7 630.0,563.7 632.0,563.7 632.0,563.7 634.1,563.7 634.1,563.7 636.2,563.7 636.2,563.7 638.2,563.7 638.2,563.7 640.3,563.7 640.3,563.7 642.4,563.7 642.4,563.7 644.4,563.7 644.4,563.7 646.5,563.7 646.5,563.7 648.6,563.7 648.6,563.7 650.7,563.7 650.7,563.7 652.7,563.7 652.7,563.7 654.8,563.7 654.8,563.7 656.9,563.7 656.9,563.7 658.9,563.7 658.9,563.7 661.0,563.7 661.0,563.7" fill="none" stroke="#f59a9a" stroke-width="1.3"/>
<polygon points="445.0,476.8 453.3,476.8 454.5,478.9 484.5,478.9 485.7,485.1 500.4,485.1 501.6,486.0 516.2,486.0 517.4,491.7 531.5,491.7 532.7,507.0 547.2,507.0 548.4,509.7 563.0,509.7 564.2,532.5 568.3,532.5 569.5,534.6 579.2,534.6 580.4,542.9 610.2,542.9 611.4,545.8 625.1,545.8 626.3,542.3 633.7,542.3 634.9,545.5 661.1,545.5 661.1,555.1 634.9,555.1 633.7,551.3 626.3,551.3 625.1,554.8 611.4,554.8 610.2,550.7 580.4,550.7 579.2,541.8 569.5,541.8 568.3,539.7 564.2,539.7 563.0,516.3 548.4,516.3 547.2,513.6 532.7,513.6 531.5,498.1 517.4,498.1 516.2,492.0 501.6,492.0 500.4,491.1 485.7,491.1 484.5,484.9 454.5,484.9 453.3,482.4 445.0,482.4" fill="#000" fill-opacity="0.15" stroke="#000" stroke-opacity="0.12" stroke-width="0.8"/>
<polyline points="445.0,479.6 453.3,479.6 454.5,481.9 484.5,481.9 485.7,488.1 500.4,488.1 501.6,489.0 516.2,489.0 517.4,494.9 531.5,494.9 532.7,510.3 547.2,510.3 548.4,513.0 563.0,513.0 564.2,536.1 568.3,536.1 569.5,538.2 579.2,538.2 580.4,546.8 610.2,546.8 611.4,550.3 625.1,550.3 626.3,546.8 633.7,546.8 634.9,550.3 661.1,550.3" fill="none" stroke="#8a8a8a" stroke-width="1.2"/>
<rect x="444.6" y="471.7" width="216.5" height="170.8" fill="none" stroke="#6a6a6a" stroke-width="1.5"/>
<line x1="553.0" y1="642.5" x2="553.0" y2="640.5" stroke="#666" stroke-width="0.8"/>
<line x1="553.0" y1="471.7" x2="553.0" y2="473.7" stroke="#666" stroke-width="0.8"/>
<line x1="444.6" y1="557.1" x2="446.6" y2="557.1" stroke="#666" stroke-width="0.8"/>
<line x1="661.1" y1="557.1" x2="659.1" y2="557.1" stroke="#666" stroke-width="0.8"/>
<text x="441.6" y="477.2" font-size="14.50" text-anchor="end" >1</text>
<text x="441.6" y="562.7" font-size="14.50" text-anchor="end" >0.5</text>
<text x="441.6" y="648.8" font-size="14.50" text-anchor="end" >0</text>
<text x="444.6" y="659.4" font-size="14.50" text-anchor="middle" >0</text>
<text x="553.0" y="659.4" font-size="14.50" text-anchor="middle" >100</text>
<text x="661.5" y="659.4" font-size="14.50" text-anchor="middle" >200</text>
<text x="594.5" y="498.4" font-size="22.20" text-anchor="start" >N=50</text>
</g>
</svg>
</body></html>
